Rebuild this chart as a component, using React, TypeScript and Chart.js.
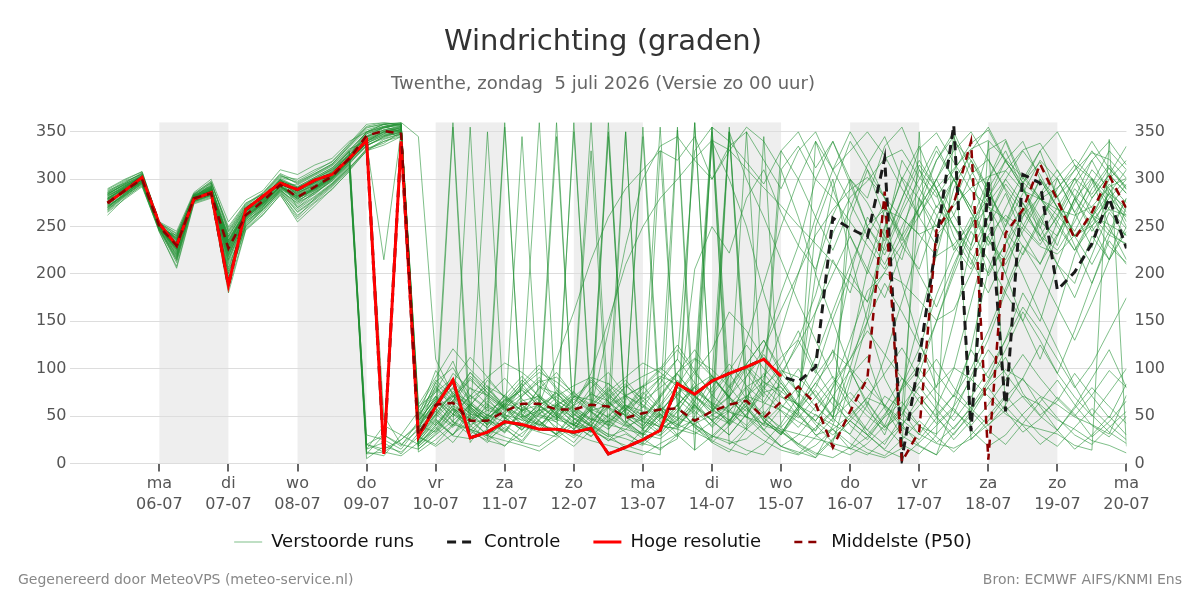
import React, { useEffect, useRef } from 'react';
import { Chart, registerables } from 'chart.js';

Chart.register(...registerables);

const FONT = '"DejaVu Sans", sans-serif';

// forecast hours since zondag 5 juli 00:00
const hours = [6, 12, 18, 24, 30, 36, 42, 48, 54, 60, 66, 72, 78, 84, 90, 96, 102, 108, 114, 120, 126, 132, 138, 144, 150, 156, 162, 168, 174, 180, 186, 192, 198, 204, 210, 216, 222, 228, 234, 240, 246, 252, 258, 264, 270, 276, 282, 288, 294, 300, 306, 312, 318, 324, 330, 336, 342, 348, 354, 360];

const dayTicks = [24, 48, 72, 96, 120, 144, 168, 192, 216, 240, 264, 288, 312, 336, 360];
const dayNames = ['ma', 'di', 'wo', 'do', 'vr', 'za', 'zo', 'ma', 'di', 'wo', 'do', 'vr', 'za', 'zo', 'ma'];
const dayDates = ['06-07', '07-07', '08-07', '09-07', '10-07', '11-07', '12-07', '13-07', '14-07', '15-07', '16-07', '17-07', '18-07', '19-07', '20-07'];
const shadedDays = [[24, 48], [72, 96], [120, 144], [168, 192], [216, 240], [264, 288], [312, 336]];
const yTicks = [0, 50, 100, 150, 200, 250, 300, 350];

const hiRes = [275, 288, 302, 253, 230, 279, 286, 188, 268, 282, 296, 289, 299, 305, 322, 341, 10, 340, 28, 60, 88, 27, 33, 44, 41, 36, 36, 33, 37, 10, 17, 25, 35, 84, 73, 87, 95, 102, 110, 92];

const control = [275, 288, 302, 253, 230, 279, 286, 188, 268, 282, 296, 289, 299, 305, 322, 341, 10, 340, 28, 60, 88, 27, 33, 44, 41, 36, 36, 33, 37, 10, 17, 25, 35, 84, 73, 87, 95, 102, 110, 92, 86, 102, 259, 248, 239, 322, 5, 110, 235, 357, 34, 297, 55, 305, 296, 183, 202, 232, 280, 227];

const p50 = [275, 288, 300, 250, 230, 280, 285, 227, 262, 277, 294, 281, 292, 303, 322, 346, 351, 348, 30, 62, 64, 45, 45, 55, 63, 63, 57, 57, 62, 60, 48, 53, 57, 58, 45, 55, 62, 66, 48, 65, 81, 63, 17, 55, 90, 287, 2, 34, 246, 274, 340, 4, 243, 268, 316, 278, 237, 265, 304, 269];

const m01 = [280, 292, 302, 248, 228, 282, 290, 230, 265, 278, 296, 285, 295, 305, 322, 340, 350, 345, 30, 55, 72, 41, 48, 63, 57, 49, 44, 61, 73, 66, 42, 31, 52, 80, 71, 58, 92, 104, 86, 70, 63, 41, 22, 85, 150, 248, 302, 279, 241, 262, 305, 321, 288, 252, 231, 262, 301, 284, 312, 289];
const m02 = [270, 285, 298, 252, 235, 278, 285, 220, 258, 272, 290, 280, 288, 300, 318, 335, 345, 352, 20, 40, 61, 50, 38, 55, 66, 71, 59, 48, 40, 31, 26, 19, 36, 62, 81, 93, 70, 49, 31, 18, 12, 6, 40, 92, 113, 58, 29, 18, 9, 61, 122, 204, 251, 297, 318, 282, 240, 251, 268, 262];
const m03 = [285, 295, 305, 245, 215, 280, 292, 200, 255, 270, 300, 270, 285, 298, 315, 15, 22, 10, 32, 61, 95, 79, 72, 58, 49, 81, 74, 59, 47, 44, 61, 55, 40, 36, 31, 44, 62, 81, 92, 112, 131, 178, 243, 281, 298, 322, 331, 302, 281, 309, 338, 352, 318, 297, 279, 291, 309, 328, 321, 301];
const m04 = [278, 290, 300, 250, 230, 283, 288, 235, 268, 280, 298, 290, 300, 310, 325, 345, 355, 350, 45, 76, 108, 62, 51, 44, 39, 33, 28, 46, 57, 49, 71, 82, 59, 48, 41, 29, 21, 26, 43, 61, 52, 30, 16, 9, 21, 40, 82, 121, 178, 222, 249, 271, 258, 229, 211, 242, 279, 301, 268, 248];
const m05 = [272, 283, 296, 248, 232, 279, 286, 228, 262, 274, 292, 282, 290, 302, 320, 340, 348, 355, 12, 25, 41, 36, 29, 52, 71, 86, 91, 74, 62, 48, 39, 47, 72, 96, 111, 99, 81, 58, 40, 34, 21, 11, 6, 17, 42, 71, 58, 39, 31, 52, 92, 131, 181, 222, 259, 282, 301, 262, 229, 212];
const m06 = [282, 293, 303, 251, 225, 281, 295, 210, 250, 268, 288, 275, 292, 305, 328, 350, 358, 352, 35, 82, 58, 46, 56, 66, 77, 61, 50, 41, 33, 62, 81, 92, 101, 86, 72, 51, 42, 61, 82, 98, 91, 72, 49, 101, 162, 231, 279, 332, 349, 318, 288, 271, 238, 199, 158, 121, 82, 51, 33, 21];
const m07 = [276, 289, 299, 249, 238, 277, 284, 240, 270, 282, 294, 288, 296, 308, 330, 20, 15, 25, 42, 71, 56, 34, 24, 19, 32, 46, 61, 53, 39, 28, 36, 51, 66, 355, 41, 29, 24, 14, 9, 31, 61, 92, 118, 101, 79, 62, 41, 19, 9, 32, 51, 81, 99, 88, 71, 62, 49, 41, 31, 72];
const m08 = [268, 282, 295, 247, 212, 276, 283, 195, 248, 265, 286, 260, 280, 295, 312, 330, 342, 348, 40, 66, 86, 112, 91, 69, 56, 62, 71, 82, 91, 84, 71, 62, 49, 41, 33, 24, 15, 9, 21, 42, 71, 112, 161, 209, 251, 268, 259, 241, 219, 231, 252, 281, 309, 331, 338, 309, 282, 261, 241, 232];
const m09 = [288, 296, 307, 253, 240, 284, 298, 245, 272, 285, 305, 295, 305, 315, 335, 355, 358, 360, 52, 71, 44, 36, 29, 24, 19, 13, 26, 41, 56, 61, 72, 81, 92, 84, 76, 64, 54, 49, 42, 36, 31, 26, 21, 16, 9, 24, 41, 61, 82, 101, 89, 71, 52, 41, 36, 31, 19, 14, 342, 18];
const m10 = [274, 286, 297, 246, 226, 278, 287, 215, 260, 273, 291, 278, 286, 299, 317, 335, 345, 350, 25, 51, 76, 64, 44, 41, 49, 56, 62, 71, 67, 59, 51, 44, 39, 37, 46, 56, 71, 92, 121, 162, 201, 241, 268, 289, 302, 281, 259, 242, 251, 272, 291, 303, 309, 288, 279, 268, 262, 271, 292, 301];
const m11 = [280, 291, 301, 250, 222, 280, 289, 205, 258, 276, 297, 284, 294, 304, 324, 342, 350, 356, 18, 36, 66, 96, 74, 59, 51, 41, 36, 31, 24, 19, 14, 9, 21, 31, 42, 51, 61, 71, 64, 56, 44, 34, 81, 131, 182, 201, 191, 172, 151, 162, 201, 241, 262, 248, 229, 221, 241, 262, 252, 241];
const m12 = [284, 294, 304, 252, 236, 282, 291, 232, 266, 279, 299, 287, 297, 307, 326, 348, 355, 358, 62, 91, 121, 99, 81, 71, 59, 51, 46, 41, 34, 26, 19, 13, 9, 352, 14, 29, 46, 61, 40, 91, 130, 95, 152, 200, 170, 240, 215, 280, 250, 300, 270, 331, 342, 300, 330, 281, 310, 340, 311, 292];
const m13 = [270, 284, 298, 249, 218, 279, 286, 190, 252, 270, 289, 270, 282, 296, 314, 10, 12, 8, 22, 46, 29, 26, 36, 28, 22, 18, 31, 43, 36, 24, 31, 21, 16, 26, 360, 56, 46, 36, 24, 14, 9, 19, 36, 51, 69, 61, 46, 31, 21, 16, 26, 41, 56, 71, 62, 46, 36, 24, 19, 11];
const m14 = [279, 290, 300, 251, 233, 281, 288, 238, 264, 277, 295, 286, 293, 303, 321, 338, 346, 353, 32, 59, 71, 52, 48, 62, 81, 96, 86, 71, 61, 76, 91, 106, 96, 81, 61, 46, 56, 71, 86, 76, 61, 51, 41, 31, 62, 112, 171, 231, 272, 251, 221, 201, 232, 261, 282, 302, 321, 301, 282, 262];
const m15 = [286, 297, 306, 254, 243, 283, 296, 250, 275, 284, 303, 300, 310, 318, 338, 358, 360, 357, 46, 86, 101, 71, 56, 51, 46, 41, 51, 61, 95, 150, 210, 250, 280, 300, 322, 341, 331, 311, 291, 272, 251, 232, 212, 191, 171, 202, 231, 262, 291, 311, 332, 341, 321, 302, 280, 262, 240, 255, 280, 300];
const m16 = [273, 287, 299, 248, 229, 280, 286, 226, 261, 275, 292, 281, 289, 301, 319, 338, 215, 351, 15, 31, 52, 71, 91, 106, 96, 81, 66, 56, 46, 41, 36, 31, 26, 41, 56, 90, 70, 101, 75, 81, 55, 30, 36, 21, 11, 6, 16, 350, 51, 72, 120, 90, 131, 180, 150, 210, 190, 240, 215, 272];
const m17 = [262, 280, 294, 244, 208, 275, 281, 180, 246, 262, 284, 255, 272, 290, 308, 12, 8, 30, 55, 40, 355, 22, 48, 61, 39, 52, 70, 58, 44, 63, 350, 35, 29, 47, 62, 38, 55, 80, 44, 31, 58, 77, 49, 120, 205, 268, 240, 310, 285, 225, 260, 198, 232, 275, 248, 301, 265, 228, 290, 255];
const m18 = [290, 300, 308, 255, 245, 286, 300, 255, 278, 288, 310, 305, 315, 322, 340, 350, 355, 360, 28, 18, 31, 45, 350, 40, 28, 52, 64, 47, 35, 59, 71, 48, 38, 55, 82, 63, 41, 92, 115, 88, 62, 45, 71, 98, 64, 38, 52, 81, 57, 36, 60, 88, 112, 74, 51, 66, 95, 71, 48, 84];
const m19 = [277, 288, 301, 250, 231, 279, 290, 222, 259, 274, 294, 276, 284, 300, 318, 345, 352, 350, 38, 66, 49, 72, 58, 360, 47, 61, 75, 52, 39, 68, 84, 61, 47, 73, 58, 342, 40, 65, 120, 180, 230, 205, 262, 300, 275, 240, 320, 290, 262, 230, 205, 250, 285, 240, 210, 255, 290, 270, 245, 280];
const m20 = [281, 293, 302, 249, 227, 284, 293, 236, 263, 280, 301, 292, 302, 312, 330, 350, 358, 355, 60, 75, 90, 68, 82, 59, 73, 91, 67, 54, 80, 96, 72, 59, 85, 110, 330, 355, 340, 318, 295, 330, 350, 312, 340, 300, 280, 335, 355, 310, 270, 300, 325, 290, 250, 285, 320, 300, 265, 295, 330, 310];
const m21 = [266, 281, 293, 246, 220, 277, 284, 212, 256, 268, 287, 265, 278, 293, 310, 330, 340, 345, 22, 35, 58, 47, 30, 42, 345, 53, 38, 27, 45, 60, 41, 29, 47, 62, 38, 25, 350, 60, 35, 18, 30, 52, 36, 15, 28, 49, 65, 40, 22, 38, 58, 80, 55, 33, 47, 70, 52, 28, 44, 66];
const m22 = [283, 291, 304, 253, 237, 280, 289, 229, 267, 281, 297, 289, 299, 309, 327, 20, 30, 18, 45, 68, 52, 80, 62, 47, 71, 88, 64, 50, 75, 58, 43, 66, 80, 95, 70, 55, 82, 105, 130, 95, 75, 160, 215, 180, 240, 275, 230, 205, 260, 300, 270, 235, 215, 250, 285, 310, 280, 245, 270, 295];
const m23 = [275, 287, 297, 250, 224, 282, 288, 218, 262, 276, 300, 283, 290, 306, 323, 348, 354, 359, 35, 52, 38, 60, 44, 33, 57, 42, 30, 360, 48, 36, 55, 70, 52, 38, 60, 45, 30, 52, 78, 105, 140, 98, 70, 50, 35, 60, 90, 72, 48, 30, 55, 85, 120, 160, 130, 95, 140, 190, 235, 210];
const m24 = [271, 284, 299, 247, 241, 278, 285, 242, 271, 283, 296, 294, 304, 314, 332, 340, 350, 352, 50, 98, 74, 60, 88, 70, 55, 79, 96, 72, 58, 140, 230, 300, 335, 345, 320, 300, 330, 355, 340, 310, 335, 300, 280, 255, 230, 205, 240, 270, 300, 330, 350, 320, 290, 265, 240, 270, 300, 330, 305, 285];
const m25 = [287, 298, 305, 252, 219, 281, 294, 207, 254, 271, 289, 272, 287, 300, 316, 5, 18, 12, 28, 20, 40, 355, 25, 38, 22, 45, 30, 18, 35, 52, 40, 26, 14, 30, 48, 22, 12, 35, 345, 38, 20, 9, 26, 45, 30, 14, 6, 22, 40, 58, 35, 18, 30, 52, 70, 48, 30, 20, 38, 55];
const m26 = [274, 289, 303, 251, 234, 283, 287, 231, 266, 278, 292, 285, 296, 305, 324, 346, 355, 357, 40, 63, 80, 59, 45, 68, 52, 39, 60, 76, 55, 42, 61, 47, 33, 50, 205, 250, 222, 280, 310, 265, 230, 300, 340, 295, 250, 225, 270, 315, 290, 240, 210, 260, 300, 275, 235, 260, 295, 320, 285, 250];
const m27 = [269, 283, 296, 249, 214, 276, 282, 198, 250, 267, 285, 262, 276, 292, 311, 332, 338, 350, 26, 44, 30, 52, 69, 48, 36, 57, 43, 29, 51, 360, 49, 37, 56, 74, 98, 72, 55, 40, 62, 85, 60, 44, 30, 48, 70, 95, 122, 90, 65, 45, 70, 98, 130, 165, 140, 110, 80, 105, 140, 175];
const m28 = [282, 292, 300, 250, 239, 280, 291, 244, 270, 283, 302, 297, 306, 316, 334, 352, 358, 360, 345, 110, 72, 55, 41, 64, 78, 60, 48, 70, 86, 65, 50, 73, 90, 68, 52, 80, 105, 82, 65, 95, 125, 160, 200, 240, 205, 175, 225, 270, 300, 262, 230, 280, 320, 290, 255, 240, 275, 310, 290, 265];
const m29 = [276, 290, 302, 248, 226, 281, 289, 224, 261, 275, 293, 279, 291, 303, 321, 340, 347, 350, 18, 33, 57, 40, 26, 47, 62, 44, 31, 55, 41, 28, 350, 22, 39, 58, 40, 27, 45, 64, 48, 33, 20, 38, 56, 75, 55, 38, 60, 85, 110, 80, 58, 40, 62, 90, 125, 95, 70, 50, 75, 100];
const m30 = [279, 286, 298, 251, 230, 279, 286, 227, 263, 277, 294, 284, 292, 304, 322, 10, 30, 20, 35, 50, 70, 88, 72, 58, 45, 63, 110, 160, 215, 260, 290, 310, 330, 320, 345, 300, 335, 350, 320, 290, 330, 350, 310, 330, 350, 325, 290, 260, 300, 340, 320, 285, 255, 295, 330, 350, 315, 280, 305, 335];
const m31 = [265, 279, 292, 245, 206, 274, 280, 185, 247, 263, 283, 258, 275, 289, 309, 330, 336, 345, 24, 42, 61, 35, 50, 72, 55, 40, 58, 44, 33, 50, 67, 345, 41, 62, 80, 58, 43, 70, 95, 72, 50, 35, 55, 260, 310, 280, 240, 200, 165, 210, 250, 290, 320, 340, 300, 270, 240, 260, 285, 310];
const m32 = [289, 299, 308, 254, 242, 285, 297, 248, 274, 286, 306, 298, 308, 319, 337, 356, 360, 358, 55, 80, 64, 47, 72, 90, 68, 52, 77, 61, 46, 70, 88, 66, 50, 72, 95, 120, 160, 140, 110, 85, 60, 45, 70, 40, 25, 50, 80, 105, 150, 200, 245, 215, 180, 150, 195, 240, 280, 250, 215, 245];
const m33 = [273, 288, 300, 249, 228, 282, 288, 221, 260, 274, 291, 280, 289, 302, 320, 342, 350, 354, 30, 48, 66, 53, 37, 60, 79, 360, 46, 68, 54, 39, 58, 75, 57, 40, 62, 355, 58, 36, 52, 75, 100, 70, 48, 65, 90, 60, 38, 25, 48, 72, 55, 35, 20, 42, 65, 88, 62, 40, 28, 50];
const m34 = [280, 291, 301, 252, 235, 280, 290, 233, 265, 279, 297, 290, 298, 308, 326, 345, 352, 356, 44, 70, 52, 38, 63, 49, 35, 58, 74, 56, 40, 65, 50, 36, 60, 82, 110, 92, 70, 55, 80, 330, 300, 260, 225, 270, 315, 345, 300, 260, 230, 275, 320, 290, 245, 220, 255, 290, 315, 300, 275, 260];
const m35 = [284, 295, 303, 250, 223, 283, 292, 216, 257, 272, 290, 277, 288, 301, 319, 340, 50, 20, 15, 30, 45, 62, 48, 32, 55, 70, 50, 36, 60, 78, 55, 40, 62, 88, 65, 45, 30, 52, 75, 55, 38, 60, 85, 110, 140, 115, 90, 65, 42, 60, 88, 120, 95, 70, 50, 35, 58, 80, 60, 42];
const m36 = [271, 285, 297, 248, 231, 278, 285, 229, 263, 276, 292, 282, 291, 302, 320, 338, 348, 352, 33, 58, 40, 62, 80, 57, 42, 65, 360, 35, 57, 74, 53, 39, 61, 45, 70, 92, 68, 50, 35, 58, 82, 60, 44, 300, 250, 220, 265, 300, 335, 300, 265, 235, 210, 245, 280, 255, 225, 250, 285, 270];
const m37 = [278, 292, 304, 251, 237, 281, 289, 239, 268, 281, 299, 291, 300, 311, 329, 344, 354, 358, 42, 64, 84, 60, 44, 67, 88, 70, 52, 40, 62, 80, 58, 45, 69, 94, 72, 55, 78, 102, 80, 62, 48, 70, 92, 68, 50, 35, 58, 280, 320, 350, 310, 275, 300, 330, 305, 270, 245, 280, 305, 285];
const m38 = [267, 282, 295, 247, 217, 277, 283, 203, 253, 269, 288, 268, 281, 295, 313, 30, 25, 15, 38, 62, 44, 30, 52, 36, 24, 47, 62, 41, 28, 45, 33, 20, 330, 60, 38, 22, 40, 58, 36, 18, 10, 28, 48, 30, 15, 8, 25, 45, 28, 12, 30, 50, 72, 50, 30, 18, 38, 58, 40, 25];
const m39 = [285, 294, 302, 253, 232, 282, 293, 234, 266, 280, 298, 288, 297, 307, 325, 350, 356, 350, 48, 85, 66, 92, 75, 60, 82, 100, 78, 62, 88, 70, 56, 80, 98, 120, 95, 75, 98, 125, 100, 80, 60, 85, 110, 200, 260, 235, 280, 320, 290, 250, 225, 260, 295, 270, 240, 225, 255, 290, 315, 290];
const m40 = [276, 288, 299, 250, 229, 280, 287, 226, 262, 276, 293, 283, 292, 302, 320, 336, 344, 350, 28, 52, 74, 58, 40, 62, 48, 34, 55, 70, 330, 36, 58, 44, 30, 55, 80, 62, 45, 70, 48, 32, 58, 85, 62, 45, 30, 52, 78, 100, 75, 55, 40, 62, 88, 115, 90, 68, 50, 72, 98, 80];
const m41 = [277, 289, 301, 249, 226, 280, 288, 219, 259, 273, 292, 279, 290, 301, 319, 344, 352, 355, 36, 58, 360, 45, 66, 52, 38, 61, 47, 350, 62, 44, 57, 71, 355, 60, 85, 340, 300, 250, 180, 120, 70, 200, 290, 340, 310, 260, 190, 130, 80, 150, 230, 300, 340, 295, 240, 210, 260, 300, 250, 215];
const m42 = [283, 293, 303, 252, 236, 283, 291, 236, 267, 281, 300, 291, 301, 310, 329, 20, 12, 25, 40, 33, 52, 44, 60, 48, 35, 55, 345, 40, 29, 46, 62, 50, 38, 45, 360, 55, 70, 48, 90, 140, 200, 260, 310, 350, 320, 280, 235, 270, 320, 345, 300, 250, 200, 150, 110, 160, 220, 260, 300, 320];
const m43 = [268, 283, 296, 247, 216, 277, 283, 201, 251, 268, 287, 266, 279, 294, 312, 332, 340, 347, 26, 47, 30, 58, 41, 355, 50, 36, 62, 48, 33, 350, 45, 30, 52, 38, 62, 45, 355, 70, 52, 38, 60, 250, 300, 220, 150, 90, 55, 30, 60, 100, 170, 240, 200, 260, 300, 270, 230, 190, 240, 280];
const m44 = [286, 296, 306, 254, 240, 284, 296, 246, 273, 285, 304, 296, 306, 316, 336, 354, 359, 357, 50, 78, 62, 90, 70, 56, 80, 66, 52, 75, 360, 60, 82, 68, 90, 110, 85, 60, 350, 95, 70, 310, 260, 200, 150, 100, 60, 30, 80, 150, 220, 290, 330, 355, 320, 290, 260, 230, 280, 320, 340, 315];
const m45 = [272, 285, 297, 248, 230, 279, 286, 224, 261, 274, 292, 281, 290, 301, 319, 338, 346, 349, 32, 55, 40, 63, 47, 34, 58, 73, 50, 36, 60, 345, 44, 31, 55, 75, 55, 40, 62, 350, 45, 30, 55, 80, 120, 60, 30, 15, 40, 70, 50, 25, 45, 340, 60, 40, 20, 35, 60, 90, 120, 80];
const m46 = [280, 290, 302, 250, 233, 281, 289, 231, 264, 278, 296, 286, 294, 305, 323, 343, 351, 354, 38, 61, 79, 56, 41, 65, 84, 62, 46, 70, 55, 40, 64, 355, 58, 42, 66, 90, 350, 300, 260, 215, 170, 130, 90, 60, 35, 20, 50, 95, 150, 205, 255, 300, 330, 290, 250, 210, 175, 220, 265, 240];
const m47 = [274, 287, 299, 249, 227, 280, 287, 223, 262, 275, 293, 282, 291, 303, 321, 15, 40, 30, 20, 38, 22, 45, 30, 18, 40, 58, 35, 22, 44, 30, 16, 36, 52, 30, 14, 350, 20, 38, 55, 35, 18, 6, 25, 45, 65, 40, 20, 10, 30, 355, 25, 45, 70, 90, 60, 35, 15, 30, 50, 30];
const m48 = [279, 291, 301, 251, 232, 282, 290, 234, 266, 279, 297, 287, 296, 306, 324, 341, 349, 353, 45, 68, 88, 65, 50, 72, 92, 70, 54, 40, 64, 85, 61, 47, 70, 96, 120, 92, 70, 130, 190, 250, 300, 340, 310, 275, 240, 210, 250, 290, 330, 300, 265, 230, 270, 305, 280, 250, 225, 260, 295, 275];
const m49 = [270, 284, 297, 248, 221, 278, 285, 214, 257, 271, 289, 274, 286, 298, 316, 336, 343, 348, 21, 40, 58, 36, 22, 43, 62, 45, 30, 52, 38, 24, 42, 60, 44, 28, 50, 72, 95, 68, 45, 30, 52, 340, 290, 240, 200, 250, 300, 335, 290, 250, 215, 180, 220, 265, 300, 280, 240, 210, 245, 230];
const m50 = [284, 295, 304, 252, 238, 282, 292, 240, 269, 282, 299, 292, 302, 312, 331, 349, 356, 359, 58, 88, 70, 96, 78, 62, 85, 104, 80, 64, 90, 72, 58, 82, 100, 125, 98, 355, 80, 105, 130, 100, 75, 55, 80, 110, 150, 190, 160, 125, 95, 70, 100, 140, 185, 230, 200, 165, 130, 170, 215, 250];

const members = [m01, m02, m03, m04, m05, m06, m07, m08, m09, m10, m11, m12, m13, m14, m15, m16, m17, m18, m19, m20, m21, m22, m23, m24, m25, m26, m27, m28, m29, m30, m31, m32, m33, m34, m35, m36, m37, m38, m39, m40, m41, m42, m43, m44, m45, m46, m47, m48, m49, m50];

const toPoints = (vals: number[]) => vals.map((v, i) => ({ x: hours[i], y: v }));

const bandsPlugin = {
  id: 'dayBands',
  beforeDraw(chart: any) {
    const { ctx, chartArea, scales } = chart;
    const x = scales.x;
    ctx.save();
    ctx.fillStyle = '#eeeeee';
    shadedDays.forEach(([a, b]) => {
      const x0 = x.getPixelForValue(a);
      const x1 = x.getPixelForValue(b);
      ctx.fillRect(x0, chartArea.top, x1 - x0, chartArea.bottom - chartArea.top);
    });
    ctx.restore();
  },
};

const footerPlugin = {
  id: 'footer',
  afterDraw(chart: any) {
    const { ctx, width, height } = chart;
    ctx.save();
    ctx.font = '14px ' + FONT;
    ctx.fillStyle = '#888888';
    ctx.textBaseline = 'middle';
    ctx.textAlign = 'left';
    ctx.fillText('Gegenereerd door MeteoVPS (meteo-service.nl)', 18, height - 20);
    ctx.textAlign = 'right';
    ctx.fillText('Bron: ECMWF AIFS/KNMI Ens', width - 18, height - 20);
    ctx.restore();
  },
};

export default function App() {
  const ref = useRef<HTMLCanvasElement>(null);
  useEffect(() => {
    document.body.style.margin = '0';
    if (!ref.current) return;
    const n = members.length;
    const ensembleSets = members.map((m, k) => ({
      label: k === 0 ? 'Verstoorde runs' : 'run ' + (k + 1),
      data: toPoints(m),
      borderColor: 'rgba(34,145,52,0.58)',
      backgroundColor: 'rgba(34,145,52,0.58)',
      borderWidth: 1,
      pointRadius: 0,
      tension: 0,
      order: 4,
    }));
    const chart = new Chart(ref.current, {
      type: 'line',
      data: {
        datasets: [
          ...ensembleSets,
          {
            label: 'Controle',
            data: toPoints(control),
            borderColor: '#1a1a1a',
            backgroundColor: '#1a1a1a',
            borderWidth: 3,
            borderDash: [9, 6],
            pointRadius: 0,
            tension: 0,
            order: 3,
          },
          {
            label: 'Hoge resolutie',
            data: toPoints(hiRes),
            borderColor: '#ff0000',
            backgroundColor: '#ff0000',
            borderWidth: 3,
            pointRadius: 0,
            tension: 0,
            order: 2,
          },
          {
            label: 'Middelste (P50)',
            data: toPoints(p50),
            borderColor: '#8b0000',
            backgroundColor: '#8b0000',
            borderWidth: 2.5,
            borderDash: [8, 6],
            pointRadius: 0,
            tension: 0,
            order: 1,
          },
        ],
      },
      options: {
        animation: false,
        responsive: true,
        maintainAspectRatio: false,
        layout: { padding: { left: 33, right: 27, top: 0, bottom: 39 } },
        plugins: {
          title: {
            display: true,
            text: 'Windrichting (graden)',
            color: '#333333',
            font: { family: FONT, size: 29, weight: 'normal' },
            padding: { top: 25, bottom: 14 },
          },
          subtitle: {
            display: true,
            text: 'Twenthe, zondag  5 juli 2026 (Versie zo 00 uur)',
            color: '#666666',
            font: { family: FONT, size: 18, weight: 'normal' },
            padding: { bottom: 27 },
          },
          legend: {
            position: 'bottom',
            labels: {
              usePointStyle: true,
              pointStyle: 'line',
              pointStyleWidth: 28,
              padding: 16,
              color: '#111111',
              font: { family: FONT, size: 18 },
              generateLabels: (c: any) => {
                const base = (Chart.defaults as any).plugins.legend.labels.generateLabels(c);
                return base.map((it: any) => {
                  const ds = c.data.datasets[it.datasetIndex];
                  const last = it.datasetIndex === c.data.datasets.length - 1;
                  return {
                    ...it,
                    text: last ? it.text : it.text + '   ',
                    lineDash: ds.borderDash || [],
                    lineWidth: ds.borderWidth,
                    strokeStyle: ds.borderColor,
                    fillStyle: ds.borderColor,
                  };
                });
              },
              filter: (item: any) => item.datasetIndex === 0 || item.datasetIndex >= n,
              sort: (a: any, b: any) => a.datasetIndex - b.datasetIndex,
            },
          },
          tooltip: { enabled: false },
        },
        scales: {
          x: {
            type: 'linear',
            min: -7.2,
            max: 360,
            afterBuildTicks: (axis: any) => {
              axis.ticks = dayTicks.map((v) => ({ value: v }));
            },
            ticks: {
              autoSkip: false,
              maxRotation: 0,
              color: '#555555',
              font: { family: FONT, size: 16, lineHeight: 1.3 },
              padding: 2,
              callback: (value: any) => {
                const i = dayTicks.indexOf(Number(value));
                return i >= 0 ? [dayNames[i], dayDates[i]] : '';
              },
            },
            grid: { drawOnChartArea: false, drawTicks: true, tickLength: 8, color: '#666666', lineWidth: 2 },
            border: { display: false },
          },
          y: {
            position: 'left',
            min: 0,
            max: 360,
            afterBuildTicks: (axis: any) => {
              axis.ticks = yTicks.map((v) => ({ value: v }));
            },
            ticks: { color: '#555555', font: { family: FONT, size: 16 }, padding: 3 },
            grid: { color: '#dddddd', drawTicks: false },
            border: { display: false },
          },
          y2: {
            position: 'right',
            min: 0,
            max: 360,
            afterBuildTicks: (axis: any) => {
              axis.ticks = yTicks.map((v) => ({ value: v }));
            },
            ticks: { color: '#555555', font: { family: FONT, size: 16 }, padding: 8 },
            grid: { drawOnChartArea: false, drawTicks: false },
            border: { display: false },
          },
        },
      },
      plugins: [bandsPlugin, footerPlugin],
    } as any);
    return () => chart.destroy();
  }, []);
  return (
    <div style={{ width: 1200, height: 600, position: 'relative' }}>
      <canvas ref={ref} />
    </div>
  );
}
